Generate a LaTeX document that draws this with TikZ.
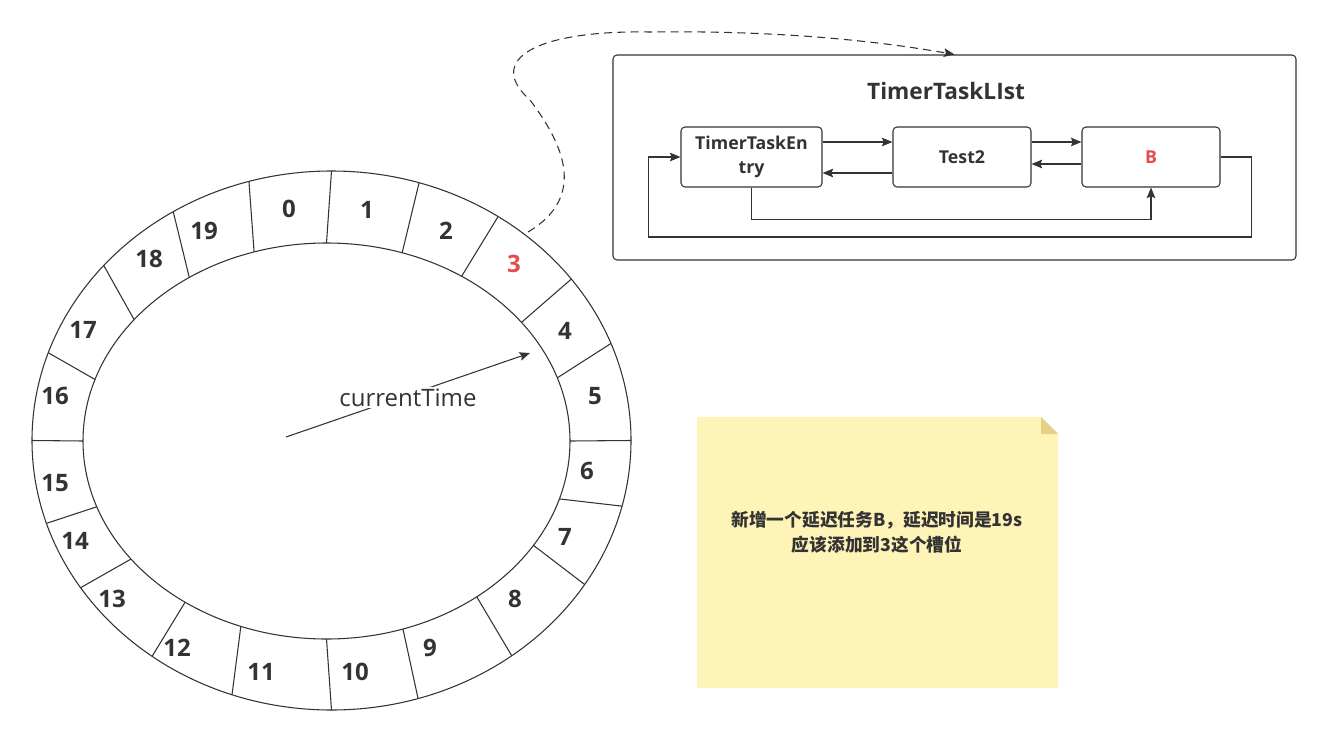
\documentclass[tikz,border=0pt]{standalone}
\usepackage{fontspec}
\setmainfont{Open Sans}
\newfontfamily\cjk{Noto Sans CJK SC}
\usetikzlibrary{calc,arrows.meta}
\definecolor{ink}{HTML}{333333}
\definecolor{hot}{HTML}{E54B4B}
\definecolor{memo}{HTML}{FFF4B8}
\definecolor{memofold}{HTML}{E6CF88}
\tikzset{
	arr/.style={draw=ink, line width=0.8pt, -{Stealth[length=8pt,width=6.5pt,inset=1.5pt]}},
	slotnum/.style={text=ink, font=\bfseries\fontsize{18}{20}\selectfont},
	listbox/.style={draw=ink, line width=0.8pt, rounded corners=3pt, text=ink, align=center, font=\bfseries\fontsize{13.3}{18.5}\selectfont, minimum height=45pt},
}

\begin{document}
\begin{tikzpicture}[x=0.75pt, y=-0.75pt, line width=0.8pt]
			%%%%% START %%%%%
			\useasboundingbox (0,0) rectangle (1319,746);
			
			% time wheel
			\draw[ink] (331.5,440.5) ellipse (299.5 and 269.5);
			\draw[ink] (326.5,441) ellipse (243.5 and 198);
			\foreach \i/\o in {-107.3/-106,-90/-90,-71.9/-73,-56.3/-56.2,-36.8/-36.8,-18.6/-21.1,0/0,17/14.1,31.8/32.3,51.9/53,71.7/73.2,90/90,110.6/109.4,125.5/126.8,143.4/146.9,160.6/162.1,180/180,198.1/199,217.8/220.5,235.7/238.1}
				\draw[ink] ($(326.5,441)+(\i:243.5 and 198)$) -- ($(331.5,440.5)+(\o:299.5 and 269.5)$);
			\foreach \n/\x/\y in {0/289/209,1/367/210,2/446/231,4/565/331,5/595/396,6/587/471,7/565/537,8/515/599,9/430/648,10/355/672,11/261/672,12/177/648,13/112/599,14/75/541,15/55/483,16/55/396,17/83/330,18/149/259,19/204/231}
				\node[slotnum] (s\n) at (\x,\y) {\n};
			\node[slotnum, text=hot] (s3) at (514,264) {3};
			
			\coordinate (hub) at (286,437);
			\coordinate (hand) at (530,353);
			\draw[arr] (hub) -- node[fill=white, inner sep=1pt, text=ink, font=\fontsize{18}{20}\selectfont, yshift=-2pt] {currentTime} (hand);
			
			% task list
			\node[draw=ink, rounded corners=3pt, minimum width=512.25pt, minimum height=153.75pt] (tlist) at (954.5,157.5) {};
			\node[text=ink, font=\bfseries\fontsize{17}{20}\selectfont] (ttitle) at (946,91) {TimerTaskLIst};
			\node[listbox, minimum width=105.75pt] (entry) at (751.5,157) {TimerTaskEn\\try};
			\node[listbox, minimum width=103.5pt] (test) at (962,157) {Test2};
			\node[listbox, minimum width=103.5pt, text=hot] (b) at (1151,157) {B};
			
			\draw[arr] ($(entry.east)+(0,-15)$) -- ($(test.west)+(0,-15)$);
			\draw[arr] ($(test.west)+(0,16)$) -- ($(entry.east)+(0,16)$);
			\draw[arr] ($(test.east)+(0,-15)$) -- ($(b.west)+(0,-15)$);
			\draw[arr] ($(b.west)+(0,7)$) -- ($(test.east)+(0,7)$);
			\draw[arr] (entry.south) -- ++(0,32) -| (b.south);
			\draw[arr] (b.east) -- ++(31,0) -- ++(0,80) -| ($(entry.west)+(-32,0)$) -- (entry.west);
			
			\coordinate (slot3) at (528,232);
			\draw[arr, dashed, dash pattern=on 6pt off 4pt] (slot3) .. controls (590,195) and (560,140) .. (530,100) .. controls (485,60) and (535,30) .. (650,32) .. controls (800,30) and (900,45) .. (tlist.north);
			
			% note
			\fill[memo] (697,417) -- (1041,417) -- (1058,434) -- (1058,688) -- (697,688) -- cycle;
			\fill[memofold] (1041,417) -- (1058,434) -- (1041,434) -- cycle;
			\node[text=ink, align=center, font=\cjk\bfseries\fontsize{13.3}{18.75}\selectfont] (memotext) at (877,532) {新增一个延迟任务B，延迟时间是19s\\应该添加到3这个槽位};
			%%%%% END %%%%%
\end{tikzpicture}
\end{document}
